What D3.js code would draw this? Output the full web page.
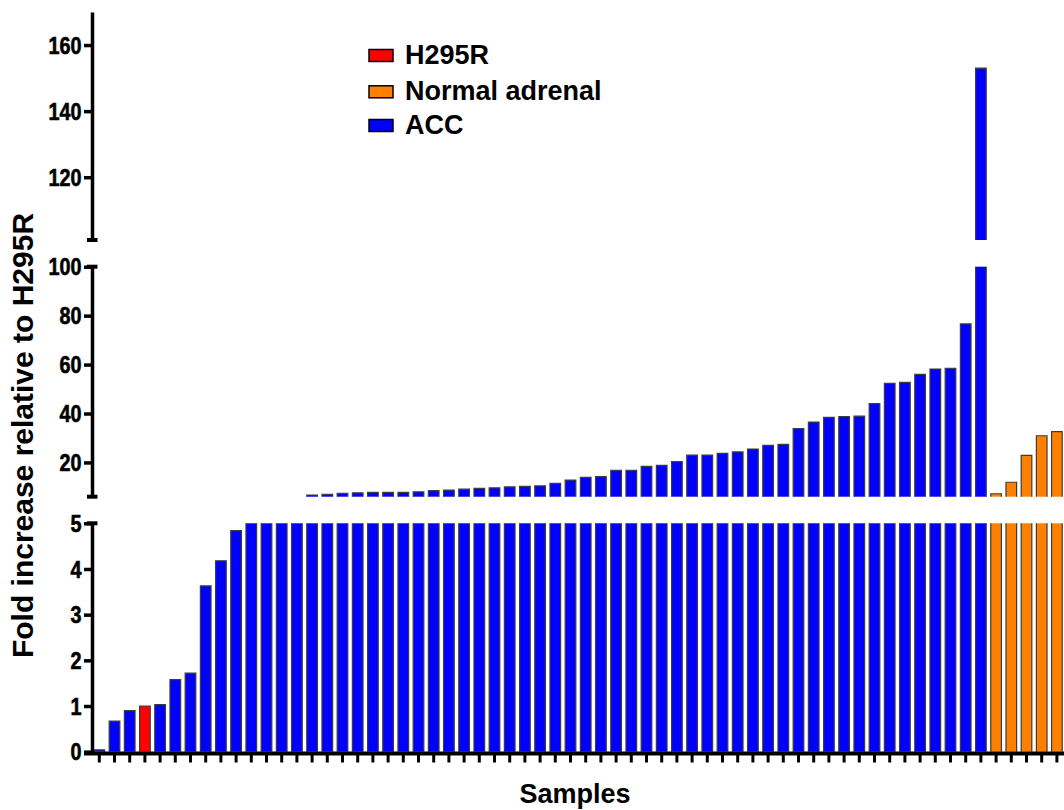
<!DOCTYPE html>
<html>
<head>
<meta charset="utf-8">
<script src="https://cdn.jsdelivr.net/npm/d3@7"></script>
<style>
  html, body { margin: 0; padding: 0; background: #fff; }
  svg { display: block; }
  .tick text { font-family: "Liberation Sans", Arial, sans-serif; font-weight: bold; }
</style>
</head>
<body>
<svg id="chart" width="1064" height="810"></svg>
<script>
// ---------- data ----------
const sampleIds = d3.range(1, 65).map(i => "S" + i);
const values = [
  0.04, 0.67, 0.90, 1.00, 1.03, 1.58, 1.72, 3.63, 4.18, 4.84,
  5.3, 5.5, 5.7, 5.9,
  6.7, 7.0, 7.4, 7.6, 7.8, 7.8, 7.8, 8.0, 8.5, 8.7,
  9.1, 9.4, 9.6, 10.0, 10.2, 10.4, 11.5, 12.8, 13.9, 14.2,
  16.8, 16.8, 18.4, 18.8, 20.3, 23.0,
  23.0, 23.7, 24.3, 25.5, 27.0, 27.4, 33.8, 36.5, 38.4, 38.7,
  38.9, 44.0, 52.3, 52.7, 56.0, 58.2, 58.5, 76.6, 153,
  7.2, 11.9, 22.9, 30.9, 32.6
];
const groups = values.map((v, i) => i === 3 ? "H295R" : (i >= 59 ? "Normal adrenal" : "ACC"));
const legendLabels = ["H295R", "Normal adrenal", "ACC"];
const groupColors = ["#ff0000", "#ff8000", "#0000ff"];
const lowDomain = [0, 5], midDomain = [6, 100], topDomain = [101, 170];
const lowTicks = [0, 1, 2, 3, 4, 5];
const midTicks = [20, 40, 60, 80, 100];
const topTicks = [120, 140, 160];
const yTitle = "Fold increase relative to H295R";
const xTitle = "Samples";

// ---------- layout ----------
const svg = d3.select("#chart");
const axisX = 92;
const color = d3.scaleOrdinal().domain(legendLabels).range(groupColors);

const x = d3.scaleBand().domain(sampleIds).range([91.7, 91.7 + 64 * 15.2])
  .paddingInner(0.3).paddingOuter(0.15);

const segs = [
  { y: d3.scaleLinear().domain(lowDomain).range([751.7, 523.3]), ticks: lowTicks, capTop: true, capBottom: false },
  { y: d3.scaleLinear().domain(midDomain).range([496.7, 266.7]), ticks: midTicks, capTop: true, capBottom: true },
  { y: d3.scaleLinear().domain(topDomain).range([240, 12]), ticks: topTicks, capTop: false, capBottom: true }
];

const data = sampleIds.map((id, i) => ({ id, v: values[i], g: groups[i] }));

// bars per segment
segs.forEach(seg => {
  const [d0, d1] = seg.y.domain();
  const g = svg.append("g");
  const vis = data.filter(d => d.v > d0);
  vis.forEach(d => {
    const top = Math.min(d.v, d1);
    const clipped = d.v > d1;
    const x0 = x(d.id), w = x.bandwidth();
    const yb = seg.y(d0), yt = seg.y(top);
    g.append("rect").attr("x", x0).attr("y", yt).attr("width", w).attr("height", yb - yt)
      .attr("fill", color(d.g));
    const p = clipped
      ? `M${x0},${yb}V${yt}M${x0 + w},${yt}V${yb}`
      : `M${x0},${yb}V${yt}H${x0 + w}V${yb}`;
    g.append("path").attr("d", p).attr("fill", "none").attr("stroke", "#3c3c3c").attr("stroke-width", 1.2);
  });
});

// y axes
segs.forEach(seg => {
  const ax = d3.axisLeft(seg.y).tickValues(seg.ticks).tickSize(8).tickSizeOuter(0)
    .tickFormat(d3.format("d"));
  const g = svg.append("g").attr("transform", `translate(${axisX},0)`).call(ax);
  g.select(".domain").attr("stroke", "#000").attr("stroke-width", 3.5);
  g.selectAll(".tick line").attr("stroke", "#000").attr("stroke-width", 3.5);
  g.selectAll(".tick text").style("font-size", "23px").attr("fill", "#000")
    .attr("stroke", "#000").attr("stroke-width", 0.6)
    .attr("x", 0).attr("dy", "0.36em")
    .attr("transform", "translate(-10.5,0) scale(0.86,1)");
  const [r0, r1] = seg.y.range();
  if (seg.capBottom) g.append("line").attr("x1", -5).attr("x2", 5.5).attr("y1", r0).attr("y2", r0)
    .attr("stroke", "#000").attr("stroke-width", 4);
  if (seg.capTop) g.append("line").attr("x1", -5).attr("x2", 5.5).attr("y1", r1).attr("y2", r1)
    .attr("stroke", "#000").attr("stroke-width", 4);
});

// x axis
const xa = svg.append("g").attr("transform", "translate(0,753.5)")
  .call(d3.axisBottom(x).tickSize(9).tickSizeOuter(0).tickFormat(""));
xa.select(".domain").attr("stroke", "#000").attr("stroke-width", 4)
  .attr("d", `M84,0H1064`);
xa.selectAll(".tick line").attr("stroke", "#000").attr("stroke-width", 3);

// titles
svg.append("text").attr("transform", "translate(33,435.5) rotate(-90)")
  .attr("text-anchor", "middle").attr("font-family", "Liberation Sans, Arial, sans-serif")
  .attr("font-weight", "bold").attr("font-size", 30).text(yTitle);
svg.append("text").attr("x", 575).attr("y", 803).attr("text-anchor", "middle")
  .attr("font-family", "Liberation Sans, Arial, sans-serif")
  .attr("font-weight", "bold").attr("font-size", 27).text(xTitle);

// legend
const leg = svg.append("g");
const legY = [55.5, 91.8, 125.5];
legendLabels.forEach((lab, i) => {
  leg.append("rect").attr("x", 369).attr("y", legY[i] - 6).attr("width", 24).attr("height", 12)
    .attr("fill", color(lab)).attr("stroke", "#000").attr("stroke-width", 1.5);
  leg.append("text").attr("x", 405).attr("y", legY[i] + 8.5)
    .attr("font-family", "Liberation Sans, Arial, sans-serif").attr("font-weight", "bold")
    .attr("font-size", 27).text(lab);
});
</script>
</body>
</html>
